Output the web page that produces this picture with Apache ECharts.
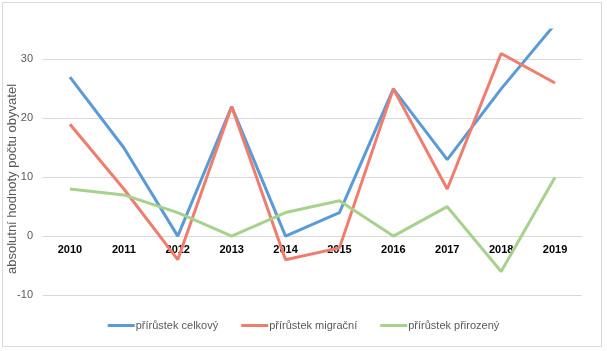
<!DOCTYPE html>
<html>
<head>
<meta charset="utf-8">
<script src="https://cdn.jsdelivr.net/npm/echarts@6/dist/echarts.min.js"></script>
<style>html,body{margin:0;padding:0;background:#fff}#c{width:607px;height:351px}</style>
</head>
<body>
<div id="c"></div>
<script>
var categories = ['2010','2011','2012','2013','2014','2015','2016','2017','2018','2019'];
var celkovy = [27, 15, 0, 22, 0, 4, 25, 13, 25, 36];
var migracni = [19, 8, -4, 22, -4, -2, 25, 8, 31, 26];
var prirozeny = [8, 7, 4, 0, 4, 6, 0, 5, -6, 10];
var seriesNames = ['přírůstek celkový', 'přírůstek migrační', 'přírůstek přirozený'];
var colors = ['#5B9BD5', '#F07C6E', '#A9D18E'];
var yTitle = 'absolutní hodnoty počtu obyvatel';

var chart = echarts.init(document.getElementById('c'));
var font = 'Liberation Sans, Arial, sans-serif';
function mk(name, data, color) {
  return {
    name: name, type: 'line', data: data, symbol: 'none', clip: true,
    lineStyle: { width: 3, color: color }, itemStyle: { color: color }
  };
}
chart.setOption({
  animation: false,
  grid: { left: 43, right: 25, top: 30, bottom: 56 },
  legend: {
    bottom: 15, left: 'center',
    itemWidth: 27, itemHeight: 3, itemGap: 23, icon: 'rect',
    textStyle: { fontFamily: font, fontSize: 11, color: '#595959', padding: [0, 0, 0, -4] },
    data: seriesNames
  },
  xAxis: {
    type: 'category', data: categories, boundaryGap: true,
    offset: -59,
    axisLine: { show: true, onZero: false, lineStyle: { color: '#d9d9d9' } },
    axisTick: { show: false },
    axisLabel: { fontFamily: font, fontSize: 11, fontWeight: 'bold', color: '#000', margin: 8 },
    splitLine: { show: false }
  },
  yAxis: {
    type: 'value', min: -10, max: 35, interval: 10,
    axisLine: { show: false }, axisTick: { show: false },
    axisLabel: { fontFamily: font, fontSize: 11, color: '#595959', margin: 10, showMaxLabel: false },
    splitLine: { show: true, lineStyle: { color: ['#d9d9d9','#d9d9d9','#d9d9d9','#d9d9d9','#d9d9d9','rgba(0,0,0,0)'], width: 1 } }
  },
  graphic: [
    { type: 'rect', left: 0, top: 0, shape: { x: 0.5, y: 0.5, width: 599, height: 344 },
      style: { fill: 'none', stroke: '#d9d9d9', lineWidth: 1 }, silent: true, z: -1 },
    { type: 'text', x: 12, y: 179, rotation: Math.PI / 2,
      style: { text: yTitle, fontFamily: font, fontSize: 13, fill: '#595959', align: 'center', verticalAlign: 'middle' } }
  ],
  series: [
    mk(seriesNames[0], celkovy, colors[0]),
    mk(seriesNames[1], migracni, colors[1]),
    mk(seriesNames[2], prirozeny, colors[2])
  ]
});
</script>
</body>
</html>
